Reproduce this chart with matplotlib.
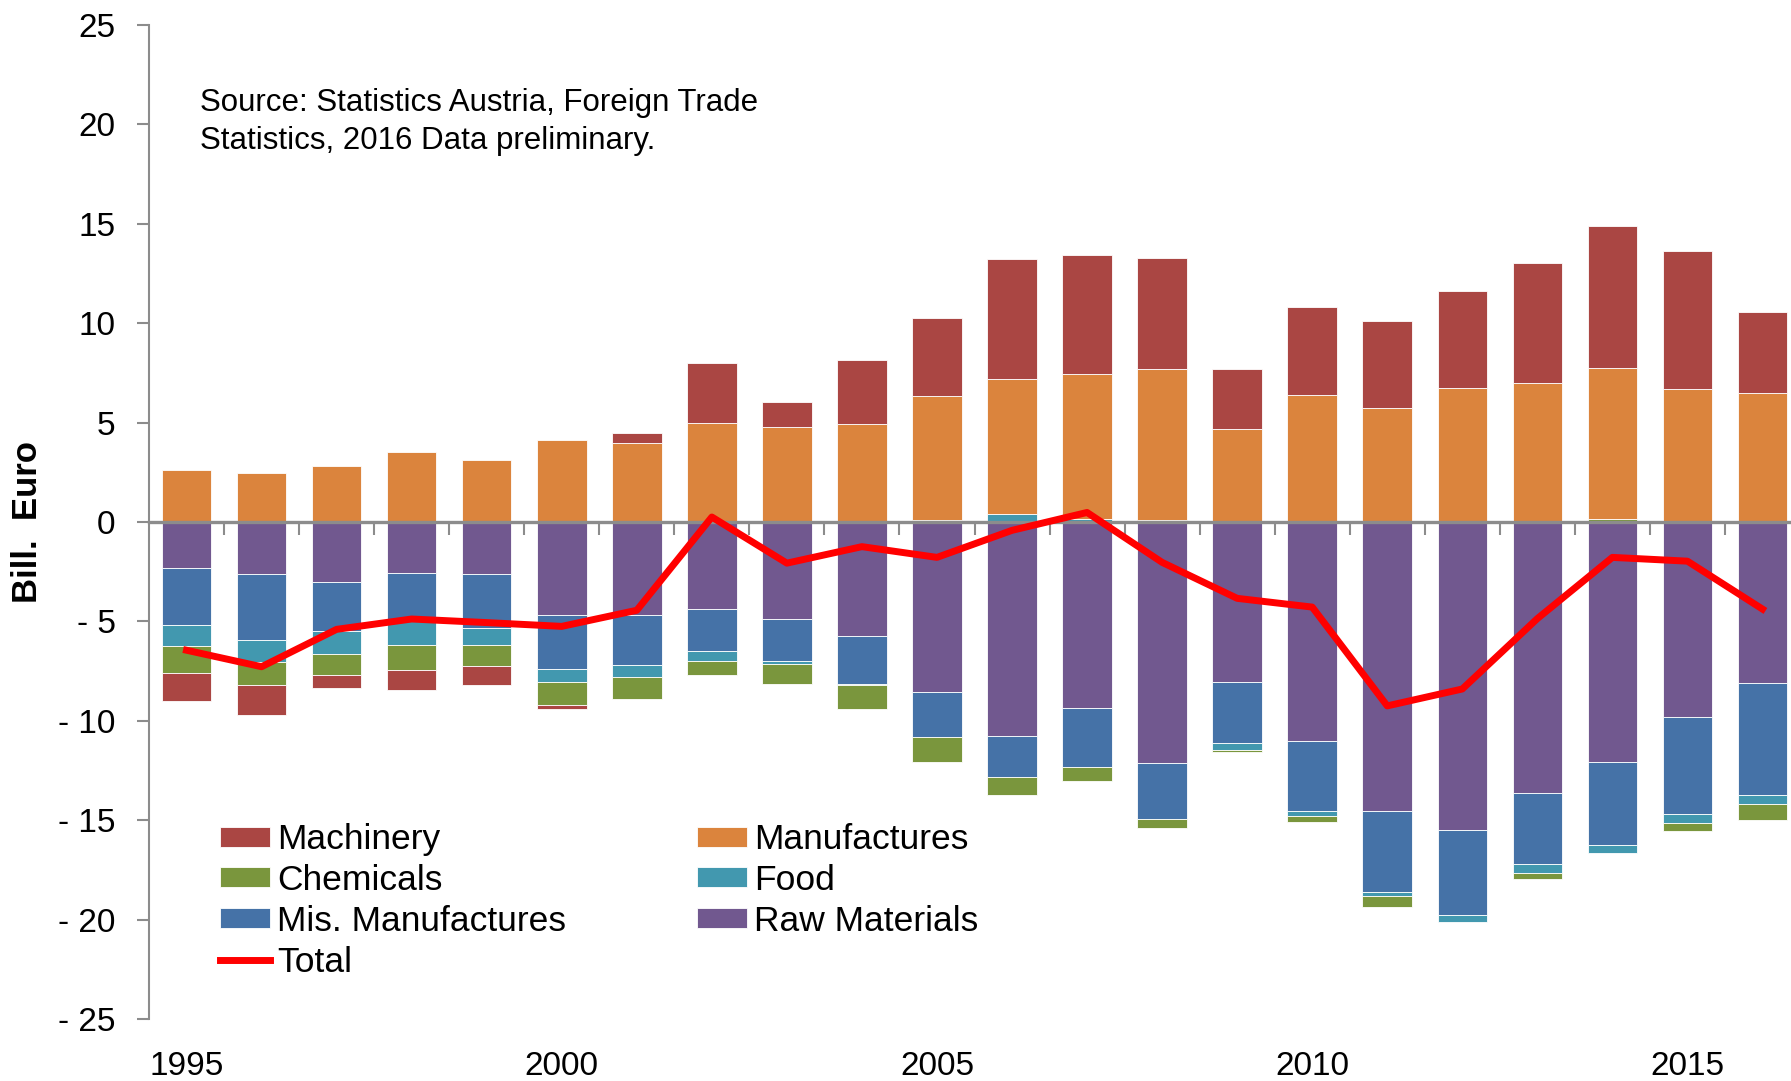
import matplotlib
matplotlib.use("Agg")
import matplotlib.pyplot as plt
import numpy as np

plt.rcParams["font.family"] = ["Liberation Sans", "DejaVu Sans"]

years = list(range(1995, 2017))

raw_materials = [-2.32, -2.61, -3.01, -2.57, -2.61, -4.67, -4.67, -4.40, -4.86, -5.73, -8.53,
                 -10.77, -9.36, -12.14, -8.03, -11.00, -14.55, -15.50, -13.63, -12.08, -9.82, -8.09]
mis_manufactures = [-2.85, -3.32, -2.49, -2.43, -2.74, -2.72, -2.53, -2.10, -2.15, -2.42, -2.28,
                    -2.07, -2.95, -2.80, -3.11, -3.53, -4.08, -4.26, -3.57, -4.19, -4.87, -5.63]
food = [-1.06, -1.12, -1.14, -1.20, -0.85, -0.68, -0.58, -0.51, -0.13, -0.03, 0.09,
        0.41, 0.16, 0.09, -0.31, -0.27, -0.19, -0.37, -0.46, -0.37, -0.44, -0.45]
chemicals = [-1.36, -1.15, -1.06, -1.23, -1.04, -1.16, -1.14, -0.67, -1.01, -1.24, -1.25,
             -0.88, -0.72, -0.44, -0.11, -0.31, -0.56, 0.0, -0.31, 0.16, -0.41, -0.81]
manufactures = [2.61, 2.45, 2.82, 3.53, 3.13, 4.14, 3.97, 4.98, 4.80, 4.91, 6.24,
                6.78, 7.29, 7.61, 4.66, 6.37, 5.74, 6.76, 7.01, 7.61, 6.69, 6.51]
machinery = [-1.42, -1.53, -0.64, -1.02, -0.96, -0.19, 0.51, 3.04, 1.26, 3.24, 3.92,
             6.03, 5.97, 5.59, 3.04, 4.46, 4.37, 4.88, 6.03, 7.12, 6.93, 4.07]
total = [-6.45, -7.28, -5.40, -4.88, -5.06, -5.25, -4.44, 0.25, -2.07, -1.24, -1.78,
         -0.42, 0.48, -2.03, -3.84, -4.28, -9.25, -8.40, -4.86, -1.78, -1.97, -4.38]

# stacking order (closest to zero first)
series = [
    ("Raw Materials", raw_materials, "#71588F"),
    ("Mis. Manufactures", mis_manufactures, "#4572A7"),
    ("Food", food, "#4298AF"),
    ("Chemicals", chemicals, "#7A963D"),
    ("Manufactures", manufactures, "#DB843D"),
    ("Machinery", machinery, "#AA4643"),
]

fig = plt.figure(figsize=(17.91, 10.81), dpi=100)
ax = fig.add_axes([149 / 1791, 1 - 1019 / 1081, 1651 / 1791, 994 / 1081])

x = np.arange(len(years))
pos_bottom = np.zeros(len(years))
neg_bottom = np.zeros(len(years))
handles = {}
for name, vals, color in series:
    v = np.array(vals)
    bottom = np.where(v >= 0, pos_bottom, neg_bottom)
    b = ax.bar(x, v, 0.66, bottom=bottom, color=color, edgecolor="white",
               linewidth=0.6, label=name, zorder=2)
    handles[name] = b
    pos_bottom += np.where(v >= 0, v, 0)
    neg_bottom += np.where(v < 0, v, 0)

line, = ax.plot(x, total, color="#FF0000", lw=5, label="Total", zorder=4)
handles["Total"] = line

ax.set_xlim(-0.5, len(years) - 0.5)
ax.set_ylim(-25, 25)
ax.set_yticks(np.arange(-25, 26, 5))
ax.set_yticklabels([f"- {abs(v)}" if v < 0 else f"{v}" for v in range(-25, 26, 5)])

label_years = [1995, 2000, 2005, 2010, 2015]
ax.set_xticks([years.index(y) for y in label_years])
ax.set_xticklabels([str(y) for y in label_years])
ax.tick_params(axis="x", length=0, pad=23, labelsize=24)
ax.tick_params(axis="y", direction="out", length=9, width=1.5, color="#8C8C8C",
               pad=15, labelsize=24)

for s in ["top", "right", "bottom"]:
    ax.spines[s].set_visible(False)
ax.spines["left"].set_color("#8C8C8C")
ax.spines["left"].set_linewidth(1.5)

# zero line with category ticks
sec = ax.secondary_xaxis(0.5)
sec.set_alignment("bottom")
sec.set_xticks(x[:-1] + 0.5)
sec.set_xticklabels([])
sec.tick_params(axis="x", direction="out", length=9, width=1.5, color="#8C8C8C")
sec.spines["bottom"].set_color("#8C8C8C")
sec.spines["bottom"].set_linewidth(2.4)
sec.set_zorder(3)

ax.set_ylabel("Bill.  Euro", fontsize=25, fontweight="bold", labelpad=10)

ax.text(200 / 1791, 1 - 88 / 1081, "Source: Statistics Austria, Foreign Trade\nStatistics, 2016 Data preliminary.",
        transform=fig.transFigure, fontsize=22.5, va="top", ha="left", linespacing=1.35)

order = ["Machinery", "Chemicals", "Mis. Manufactures", "Total",
         "Manufactures", "Food", "Raw Materials"]
ax.legend([handles[n] for n in order], order, ncol=2, loc="upper left",
          bbox_to_anchor=(0.043, 0.197), frameon=False, fontsize=25.5,
          borderpad=0, borderaxespad=0, handlelength=1.41, handleheight=0.5,
          handletextpad=0.2, labelspacing=0.22, columnspacing=3.7)

fig.savefig("out.png", dpi=100)
